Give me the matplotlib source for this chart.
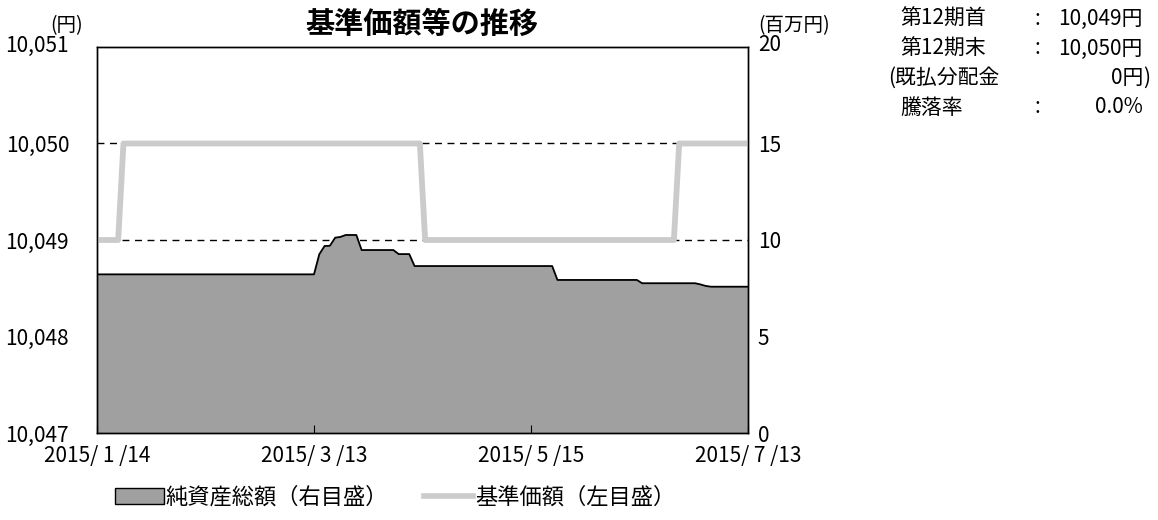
import matplotlib
matplotlib.use('Agg')
import matplotlib.pyplot as plt
from matplotlib.patches import Patch
from matplotlib.lines import Line2D
from matplotlib.ticker import FuncFormatter
from matplotlib.transforms import ScaledTranslation

plt.rcParams['font.family'] = ['Noto Sans CJK JP', 'DejaVu Sans']

# business days 2015/1/14 .. 2015/7/13 (124 points)
# net assets, million yen (right axis)
nav = ([8.22] * 42 + [9.26, 9.69, 9.70, 10.12, 10.16, 10.26, 10.26, 10.26]
       + [9.48] * 7 + [9.27] * 3 + [8.65] * 27 + [7.93] * 16
       + [7.76] * 11 + [7.70, 7.62] + [7.58] * 8)
# base price, yen (left axis)
price = [10049] * 5 + [10050] * 57 + [10049] * 48 + [10050] * 14

tick_idx = [0, 41, 82, 123]
tick_labels = ['2015/ 1 /14', '2015/ 3 /13', '2015/ 5 /15', '2015/ 7 /13']

W, H = 1158, 520
fig = plt.figure(figsize=(W / 100, H / 100), dpi=100)
ax = fig.add_axes([97 / W, 1 - 433 / H, 651 / W, 386 / H])
ax2 = ax.twinx()

x = list(range(len(nav)))

# right axis: area + gridlines underneath
for g in [5, 10, 15]:
    ax2.axhline(g, color='black', lw=1, ls=(0, (5, 4)), zorder=1)
ax2.fill_between(x, nav, 0, facecolor='#a0a0a0', edgecolor='none', zorder=2)
ax2.plot(x, nav, color='black', lw=1.3, zorder=3)
ax2.set_ylim(0, 20)
ax2.set_yticks([0, 5, 10, 15, 20])
ax2.tick_params(axis='y', length=0, pad=7, labelsize=15)

# left axis: base price line on top
ax.plot(x, price, color='#cbcbcb', lw=4.2)
ax.set_ylim(10047, 10051)
ax.set_yticks([10047, 10048, 10049, 10050, 10051])
ax.yaxis.set_major_formatter(FuncFormatter(lambda v, p: f'{int(v):,}'))
ax.tick_params(axis='y', length=0, pad=20, labelsize=15)
ax.set_zorder(ax2.get_zorder() + 1)
ax.patch.set_visible(False)

ax.set_xlim(0, 123)
ax.set_xticks(tick_idx)
ax.set_xticklabels(tick_labels)
ax.tick_params(axis='x', direction='in', length=6, pad=9, labelsize=15)

# top labels sit a little higher, as in the original
up = ScaledTranslation(0, 4 / 100, fig.dpi_scale_trans)
for lab in [ax.get_yticklabels()[-1], ax2.get_yticklabels()[-1]]:
    lab.set_transform(lab.get_transform() + up)

for a in (ax, ax2):
    for s in a.spines.values():
        s.set_color('black')
        s.set_linewidth(1)

fig.text(422 / W, 1 - 24 / H, '基準価額等の推移', ha='center', va='center',
         fontsize=21, fontweight='bold')
fig.text(67 / W, 1 - 26 / H, '(円)', ha='center', va='center', fontsize=14)
fig.text(794 / W, 1 - 26 / H, '(百万円)', ha='center', va='center', fontsize=14)

# info box
rows = [
    (900, '第12期首', ':', '10,049円'),
    (900, '第12期末', ':', '10,050円'),
    (888, '(既払分配金', '', '0円'),
    (900, '騰落率', ':', '0.0%'),
]
ys = [19, 48.5, 78, 107.5]
for (x0, lab, colon, val), y in zip(rows, ys):
    fig.text(x0 / W, 1 - y / H, lab, ha='left', va='center', fontsize=15)
    if colon:
        fig.text(1035 / W, 1 - y / H, colon, ha='left', va='center', fontsize=15)
    fig.text(1143 / W, 1 - y / H, val, ha='right', va='center', fontsize=15)
fig.text(1143 / W, 1 - 78 / H, ')', ha='left', va='center', fontsize=15)

handles = [
    Patch(facecolor='#a0a0a0', edgecolor='black', lw=1, label='純資産総額（右目盛）'),
    Line2D([], [], color='#cbcbcb', lw=4, label='基準価額（左目盛）'),
]
fig.legend(handles=handles, loc='center', bbox_to_anchor=(395 / W, 1 - 497 / H),
           ncol=2, frameon=False, fontsize=16, handlelength=2.2, handleheight=0.7,
           columnspacing=1.6, handletextpad=0.1)

fig.savefig('out.png', dpi=100)
